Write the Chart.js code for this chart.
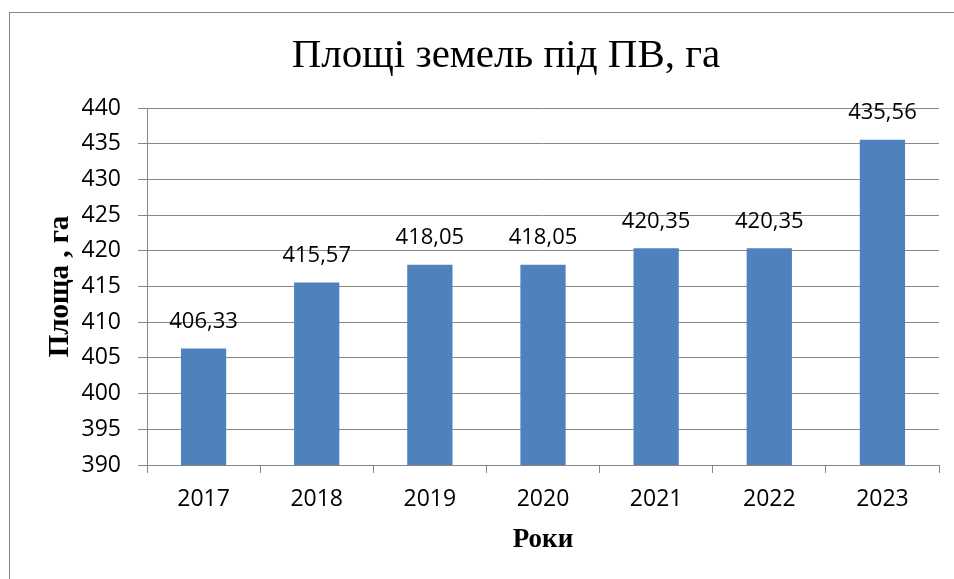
<!DOCTYPE html>
<html lang="uk">
<head>
<meta charset="utf-8">
<title>Площі земель під ПВ, га</title>
<script src="https://cdn.jsdelivr.net/npm/chart.js@4.4.1/dist/chart.umd.min.js"></script>
<style>
  html, body { margin: 0; padding: 0; background: #ffffff; }
  canvas { display: block; }
</style>
</head>
<body>
<canvas id="areaChart" width="954" height="579"></canvas>
<script>
// Land area by year (ha)
const years = ['2017', '2018', '2019', '2020', '2021', '2022', '2023'];
const areas = [406.33, 415.57, 418.05, 418.05, 420.35, 420.35, 435.56];
const yMin = 390;
const yMax = 440;
const yStep = 5;
const chartTitle = 'Площі земель під ПВ, га';

const gridColor = '#878787';
const serif = '"Liberation Serif", "Times New Roman", serif';
const sans = '"Open Sans", "Liberation Sans", sans-serif';

// Outer frame of the chart object plus the heading, centred on the frame
const framePlugin = {
  id: 'frame',
  beforeDraw(chart) {
    const ctx = chart.ctx;
    ctx.save();
    ctx.fillStyle = '#ffffff';
    ctx.fillRect(0, 0, chart.width, chart.height);
    ctx.strokeStyle = gridColor;
    ctx.lineWidth = 1;
    ctx.strokeRect(9.5, 12.5, 1000, 1000);
    ctx.font = '41px ' + serif;
    ctx.fillStyle = '#000000';
    ctx.textAlign = 'center';
    ctx.textBaseline = 'alphabetic';
    ctx.fillText(chartTitle, 506, 67);
    ctx.restore();
  }
};

// Value labels above each bar, decimal comma
const valueLabels = {
  id: 'valueLabels',
  afterDatasetsDraw(chart) {
    const ctx = chart.ctx;
    const meta = chart.getDatasetMeta(0);
    ctx.save();
    ctx.font = '22px ' + sans;
    ctx.fillStyle = '#000000';
    ctx.textAlign = 'center';
    ctx.textBaseline = 'middle';
    meta.data.forEach((bar, i) => {
      const text = areas[i].toFixed(2).replace('.', ',');
      ctx.fillText(text, bar.x, bar.y - 27);
    });
    ctx.restore();
  }
};

new Chart(document.getElementById('areaChart'), {
  type: 'bar',
  data: {
    labels: years,
    datasets: [{
      data: areas,
      backgroundColor: '#4F81BD',
      borderWidth: 0,
      barPercentage: 0.4,
      categoryPercentage: 1.0
    }]
  },
  options: {
    responsive: false,
    animation: false,
    devicePixelRatio: 1,
    layout: { padding: { left: 0, right: 15, top: 108, bottom: 0 } },
    plugins: {
      legend: { display: false },
      tooltip: { enabled: false },
      title: { display: false }
    },
    scales: {
      x: {
        offset: true,
        grid: {
          display: true,
          drawOnChartArea: false,
          drawTicks: true,
          tickLength: 8,
          color: gridColor,
          offset: true
        },
        border: { display: true, color: gridColor, width: 1 },
        ticks: {
          color: '#000000',
          font: { family: sans, size: 23 },
          padding: 13,
          maxRotation: 0
        },
        title: {
          display: true,
          text: 'Роки',
          color: '#000000',
          font: { family: serif, size: 27, weight: 'bold', lineHeight: 1.2 },
          padding: { top: 0, bottom: 23 }
        },
        afterFit(scale) { scale.height = 114; }
      },
      y: {
        min: yMin,
        max: yMax,
        grid: {
          color: gridColor,
          lineWidth: 1,
          drawTicks: true,
          tickLength: 9
        },
        border: { display: true, color: gridColor, width: 1 },
        ticks: {
          stepSize: yStep,
          color: '#000000',
          font: { family: sans, size: 23 },
          padding: 17
        },
        title: {
          display: true,
          text: 'Площа , га',
          color: '#000000',
          font: { family: serif, size: 29, weight: 'bold', lineHeight: 1.2 },
          padding: { top: 43, bottom: 0 }
        },
        afterFit(scale) { scale.width = 147; }
      }
    }
  },
  plugins: [framePlugin, valueLabels]
});
</script>
</body>
</html>
